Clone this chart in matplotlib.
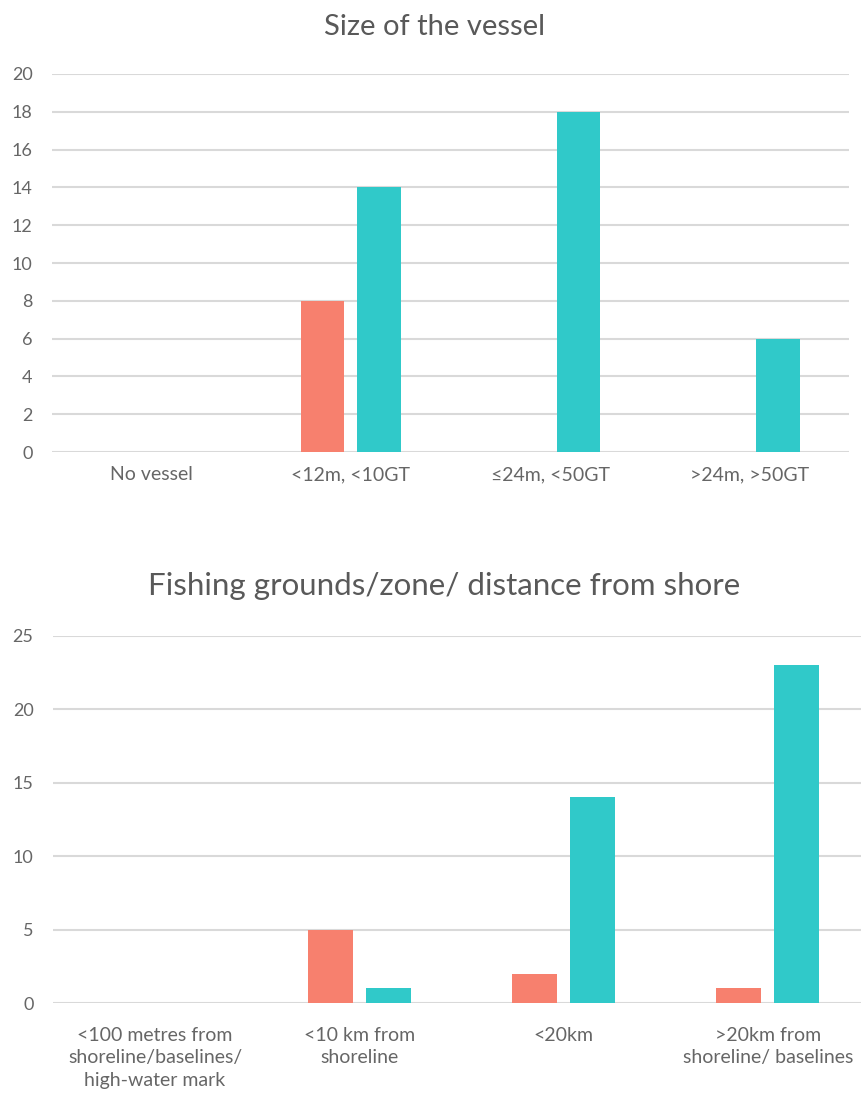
import numpy as np
import matplotlib
matplotlib.use('Agg')
import matplotlib.pyplot as plt

plt.rcParams['font.family'] = ['Lato', 'DejaVu Sans']

# top chart: size of the vessel
vessel_cats = ['No vessel', '<12m, <10GT', '≤24m, <50GT', '>24m, >50GT']
vessel_red = [0, 8, 0, 0]
vessel_teal = [0, 14, 18, 6]

# bottom chart: fishing grounds
ground_cats = ['<100 metres from\nshoreline/baselines/\nhigh-water mark',
               '<10 km from\nshoreline',
               '<20km',
               '>20km from\nshoreline/ baselines']
ground_red = [0, 5, 2, 1]
ground_teal = [0, 1, 14, 23]

RED = '#F7806E'
TEAL = '#30C9C9'
GRID = '#D9D9D9'
TXT = '#595959'
TICK = '#666666'

W, H = 862, 1097
fig = plt.figure(figsize=(W / 100, H / 100), dpi=100)


def box(l, r, t, b):
    return [l / W, 1 - b / H, (r - l) / W, (b - t) / H]


def draw(ax, cats, red, teal, ymax, step):
    x = np.arange(len(cats))
    w = 0.22
    off = 0.142
    ax.bar(x - off, red, w, color=RED, zorder=3)
    ax.bar(x + off, teal, w, color=TEAL, zorder=3)
    ax.set_xlim(-0.5, len(cats) - 0.5)
    ax.set_ylim(0, ymax)
    ax.set_yticks(np.arange(0, ymax + 1, step))
    ax.set_xticks(x)
    ax.set_xticklabels(cats, linespacing=1.4)
    ax.grid(axis='y', color=GRID, linewidth=1.5, zorder=0)
    for s in ax.spines.values():
        s.set_visible(False)
    ax.tick_params(length=0, colors=TICK)
    ax.tick_params(axis='x', labelsize=14)
    ax.tick_params(axis='y', labelsize=13, pad=14)
    ax.set_facecolor('none')


ax1 = fig.add_axes(box(52, 849, 74, 452))
draw(ax1, vessel_cats, vessel_red, vessel_teal, 20, 2)
ax1.tick_params(axis='x', pad=10)
fig.text(434 / W, 1 - 27 / H, 'Size of the vessel', ha='center', va='center',
         fontsize=21, color=TXT)

ax2 = fig.add_axes(box(53, 870, 636, 1003))
draw(ax2, ground_cats, ground_red, ground_teal, 25, 5)
ax2.tick_params(axis='x', pad=17)
fig.text(444 / W, 1 - 586 / H, 'Fishing grounds/zone/ distance from shore',
         ha='center', va='center', fontsize=22.5, color=TXT)

fig.savefig('out.png', dpi=100)
